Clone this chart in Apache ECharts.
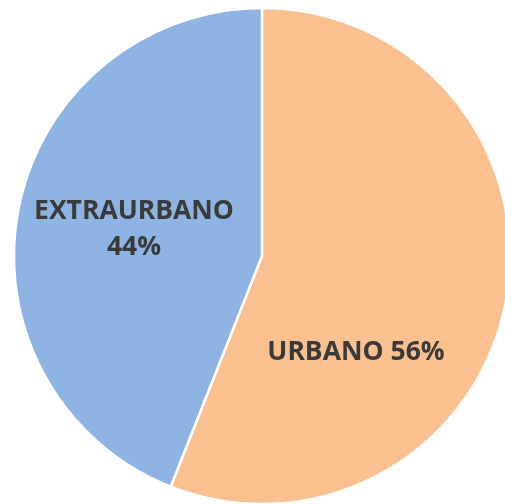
<!DOCTYPE html>
<html>
<head>
<meta charset="utf-8">
<script src="https://cdn.jsdelivr.net/npm/echarts@6/dist/echarts.min.js"></script>
<style>
html,body{margin:0;padding:0;background:#fff;}
#chart{width:505px;height:504px;}
</style>
</head>
<body>
<div id="chart"></div>
<script>
const categories = ['URBANO', 'EXTRAURBANO'];
const values = [56, 44];
const colors = ['#FAC090', '#8EB4E3'];
const labelTexts = ['URBANO 56%', 'EXTRAURBANO\n44%'];
const labelPos = [[356, 352], [134, 229]];

const chart = echarts.init(document.getElementById('chart'), null, {renderer: 'canvas'});
chart.setOption({
  animation: false,
  series: [{
    type: 'pie',
    center: [262, 256],
    radius: [0, 248],
    startAngle: 90,
    clockwise: true,
    data: categories.map((c, i) => ({
      name: c,
      value: values[i],
      itemStyle: {color: colors[i]},
      label: {formatter: labelTexts[i]}
    })),
    itemStyle: {borderColor: '#ffffff', borderWidth: 2.5},
    label: {
      show: true,
      position: 'inside',
      color: '#3a3a3a',
      fontFamily: 'Open Sans',
      fontWeight: 'bold',
      fontSize: 26.5,
      lineHeight: 36,
      align: 'center',
      verticalAlign: 'middle'
    },
    labelLine: {show: false},
    emphasis: {disabled: true},
    labelLayout: function (p) {
      return {x: labelPos[p.dataIndex][0], y: labelPos[p.dataIndex][1], align: 'center', verticalAlign: 'middle'};
    }
  }]
});
</script>
</body>
</html>
